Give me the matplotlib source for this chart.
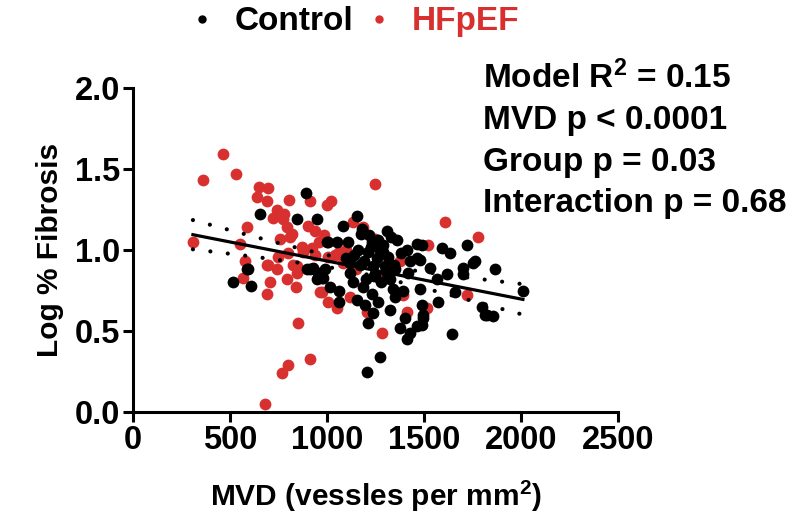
import numpy as np
import matplotlib
matplotlib.use('Agg')
from matplotlib import pyplot as plt
from matplotlib.lines import Line2D

plt.rcParams['font.family'] = ['Liberation Sans', 'DejaVu Sans']
plt.rcParams['font.weight'] = 'bold'
plt.rcParams['mathtext.fontset'] = 'custom'
plt.rcParams['mathtext.rm'] = 'Liberation Sans:bold'
plt.rcParams['mathtext.bf'] = 'Liberation Sans:bold'
plt.rcParams['mathtext.default'] = 'bf'

# MVD (vessels per mm^2) and log % fibrosis per sample
hfpefMvd = [309, 361, 464, 531, 552, 577, 567, 588, 639, 649, 691, 696, 742, 804,
            773, 793, 758, 809, 747, 799, 696, 845, 691, 742, 706, 691, 794, 840,
            825, 845, 876, 923, 938, 851, 912, 799, 768, 680, 974, 1005, 1247, 912,
            1000, 1020, 938, 1134, 1186, 1247, 1005, 1041, 1082, 1376, 964, 1052,
            1119, 1206, 1412, 1283, 1515, 1392, 1722, 1608, 1778, 1521, 960, 1100,
            870, 720, 780, 820, 900, 1060, 1150, 1270, 985]
hfpefFib = [1.05, 1.43, 1.59, 1.47, 1.04, 0.93, 0.83, 1.14, 1.33, 1.39, 1.30, 1.38,
            1.25, 1.31, 1.19, 1.14, 1.07, 1.08, 0.96, 0.98, 0.91, 0.90, 0.91, 0.88,
            0.80, 0.73, 0.82, 0.77, 0.91, 0.86, 0.99, 1.01, 0.97, 0.55, 0.33, 0.29,
            0.24, 0.05, 0.74, 0.68, 1.41, 1.30, 1.28, 1.30, 1.12, 1.17, 1.14, 1.07,
            0.96, 0.97, 0.92, 0.93, 0.74, 0.64, 0.71, 0.62, 0.62, 0.49, 0.64, 0.72,
            0.72, 1.17, 1.08, 1.03, 1.05, 1.00, 1.02, 1.20, 1.22, 1.10, 1.15, 0.99,
            0.88, 0.83, 1.09]

controlMvd = [655, 593, 515, 608, 588, 845, 1000, 912, 974, 1015, 892, 948, 1155,
              1082, 1175, 1309, 1361, 1005, 1052, 1108, 1160, 1211, 1273, 1258, 1412,
              1464, 1464, 1314, 1170, 928, 990, 1237, 897, 954, 979, 948, 1062, 1062,
              1119, 1134, 1186, 1155, 1196, 1263, 1237, 1211, 1325, 1402, 1376, 1428,
              1412, 1464, 1490, 1495, 1479, 1340, 1325, 1392, 1350, 1273, 1206, 1572,
              1644, 1619, 1567, 1660, 1701, 1753, 1866, 1799, 1814, 1856, 2010, 1722,
              1593, 1634, 1490, 1479, 1531, 1428, 1763, 1701, 1490, 1300, 1250, 1200,
              1230, 1280, 1100, 1330, 1380, 1420, 1290, 1230, 1825, 1495,
              1140, 1190, 1225, 1265, 1305, 1345, 1180, 1240, 1290, 1350, 1215, 1120]
controlFib = [1.22, 0.88, 0.80, 0.78, 0.88, 1.19, 1.05, 0.88, 0.83, 0.77, 1.35, 1.19,
              1.21, 1.15, 1.10, 1.12, 1.06, 1.05, 1.05, 1.05, 1.00, 0.99, 1.00, 0.95,
              1.00, 1.04, 0.95, 0.96, 0.91, 0.89, 0.88, 0.90, 0.88, 0.86, 0.83, 0.82,
              0.75, 0.68, 0.86, 0.80, 0.77, 0.69, 0.66, 0.68, 0.61, 0.55, 0.63, 0.58,
              0.52, 0.49, 0.45, 0.53, 0.66, 0.60, 0.76, 0.76, 0.82, 0.75, 0.71, 0.34,
              0.25, 0.68, 0.48, 0.85, 0.82, 0.74, 0.85, 0.92, 0.88, 0.65, 0.60, 0.59,
              0.75, 1.03, 1.01, 0.98, 1.03, 0.94, 0.89, 0.93, 0.93, 0.89, 0.54, 0.90,
              0.85, 0.82, 0.73, 0.80, 0.95, 1.08, 0.98, 0.86, 1.03, 1.05, 0.60, 0.58,
              0.97, 0.93, 1.02, 1.06, 0.87, 0.91, 1.13, 0.84, 0.99, 0.88, 1.09, 0.92]

statLines = ['Model R$^2$ = 0.15', 'MVD p < 0.0001', 'Group p = 0.03',
             'Interaction p = 0.68']

xTicks = [0, 500, 1000, 1500, 2000, 2500]
yTicks = [0.0, 0.5, 1.0, 1.5, 2.0]

red = '#d7302e'

fig = plt.figure(figsize=(8.03, 5.21), dpi=100)
ax = fig.add_axes([0.1656, 0.2092, 0.604, 0.6218])

ax.scatter(hfpefMvd, hfpefFib, s=72, color=red, linewidths=0, zorder=2)
ax.scatter(controlMvd, controlFib, s=72, color='black', linewidths=0, zorder=3)

# pooled linear fit with 95% confidence band
allX = np.array(hfpefMvd + controlMvd, dtype=float)
allY = np.array(hfpefFib + controlFib)
slope, intercept = np.polyfit(allX, allY, 1)
n = len(allX)
resid = allY - (slope * allX + intercept)
s = np.sqrt(np.sum(resid ** 2) / (n - 2))
xFit = np.linspace(allX.min(), allX.max(), 200)
yFit = slope * xFit + intercept
se = s * np.sqrt(1 / n + (xFit - allX.mean()) ** 2 / np.sum((allX - allX.mean()) ** 2))
ci = 1.973 * se
ax.plot(xFit, yFit, color='black', lw=2.3, zorder=4)
for band in (yFit + ci, yFit - ci):
    ax.plot(xFit, band, color='black', lw=3, linestyle=(0, (0.01, 4.2)),
            dash_capstyle='round', zorder=4)

ax.set_xlim(0, 2500)
ax.set_ylim(0, 2.0)
ax.set_xticks(xTicks)
ax.set_yticks(yTicks)
ax.set_yticklabels(['{:.1f}'.format(t) for t in yTicks])
ax.spines['top'].set_visible(False)
ax.spines['right'].set_visible(False)
for side in ('left', 'bottom'):
    ax.spines[side].set_linewidth(2.2)
ax.tick_params(width=2.2, length=7, labelsize=23.5, pad=2)
ax.set_xlabel('MVD (vessles per mm$^2$)', fontsize=21.5, fontweight='bold', labelpad=17)
ax.set_ylabel('Log % Fibrosis', fontsize=21.5, fontweight='bold', labelpad=8)

handles = [Line2D([], [], marker='o', color='black', ls='none', markersize=5),
           Line2D([], [], marker='o', color=red, ls='none', markersize=5)]
leg = fig.legend(handles, ['Control', 'HFpEF'], loc='center', ncol=2,
                 bbox_to_anchor=(0.443, 0.958), frameon=False, fontsize=24,
                 handlelength=0.6, handletextpad=0.7, columnspacing=0.45)
leg.get_texts()[1].set_color(red)

for i, line in enumerate(statLines):
    fig.text(0.601, 0.85 - i * 0.0805, line, fontsize=24, fontweight='bold',
             va='center', ha='left')

fig.savefig('out.png', dpi=100)
